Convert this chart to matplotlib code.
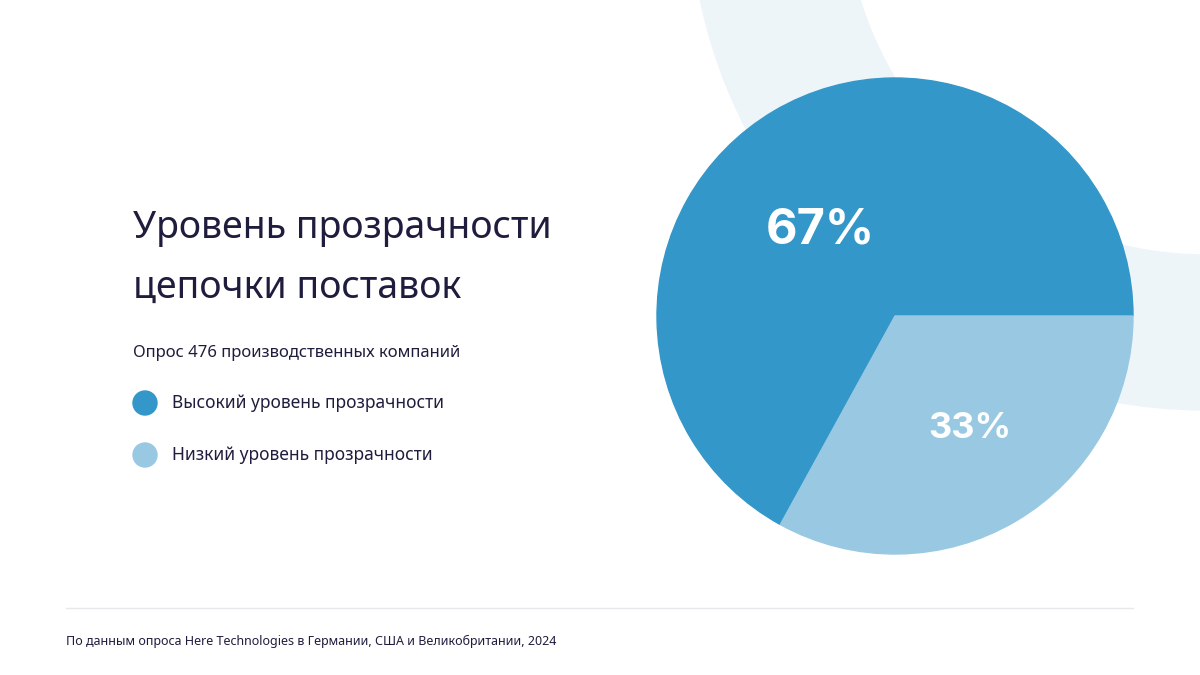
import matplotlib.pyplot as plt
from matplotlib.patches import Wedge, Circle

CATEGORIES = ["Высокий уровень прозрачности", "Низкий уровень прозрачности"]
SHARES = [67, 33]
COLORS = ["#3497c9", "#99c9e2"]
TEXT = "#1f1d3d"
RING = "#eef5f9"

fig = plt.figure(figsize=(12, 6.75), dpi=100)
fig.patch.set_facecolor("white")
ax = fig.add_axes([0, 0, 1, 1])
ax.set_xlim(0, 1200)
ax.set_ylim(675, 0)
ax.set_aspect("equal")
ax.axis("off")

# decorative ring in the background
ax.add_patch(Wedge((1206, -107), 517, 0, 360, width=155, color=RING, zorder=0))

# pie drawn counter-clockwise from 3 o'clock (y axis is flipped, so negate)
cx, cy, r = 895, 316, 238
start = 0.0
for share, color in zip(SHARES, COLORS):
    sweep = share / sum(SHARES) * 360
    ax.add_patch(Wedge((cx, cy), r, -(start + sweep), -start, color=color, zorder=2))
    start += sweep
ax.text(820, 230, f"{SHARES[0]}%", color="white", fontsize=35, weight="bold",
        ha="center", va="center", family="Inter", zorder=3)
ax.text(970, 428, f"{SHARES[1]}%", color="white", fontsize=26, weight="bold",
        ha="center", va="center", family="Inter", zorder=3)

ax.text(133, 228, "Уровень прозрачности", color=TEXT, fontsize=27, weight="bold",
        va="center", family="Noto Sans")
ax.text(133, 288, "цепочки поставок", color=TEXT, fontsize=27, weight="bold",
        va="center", family="Noto Sans")
ax.text(133, 353, "Опрос 476 производственных компаний", color=TEXT, fontsize=12,
        va="center", family="Noto Sans")
for i, (lab, color) in enumerate(zip(CATEGORIES, COLORS)):
    y = 403 + i * 52
    ax.add_patch(Circle((145, y), 12, color=color, zorder=2))
    ax.text(172, y, lab, color=TEXT, fontsize=12.5, weight="bold", va="center",
            family="Noto Sans")

ax.plot([66, 1133], [608, 608], color="#e6e8ec", linewidth=1)
ax.text(66, 641, "По данным опроса Here Technologies в Германии, США и Великобритании, 2024",
        color=TEXT, fontsize=9, va="center", family="Noto Sans")

fig.savefig("out.png", dpi=100, facecolor="white")
